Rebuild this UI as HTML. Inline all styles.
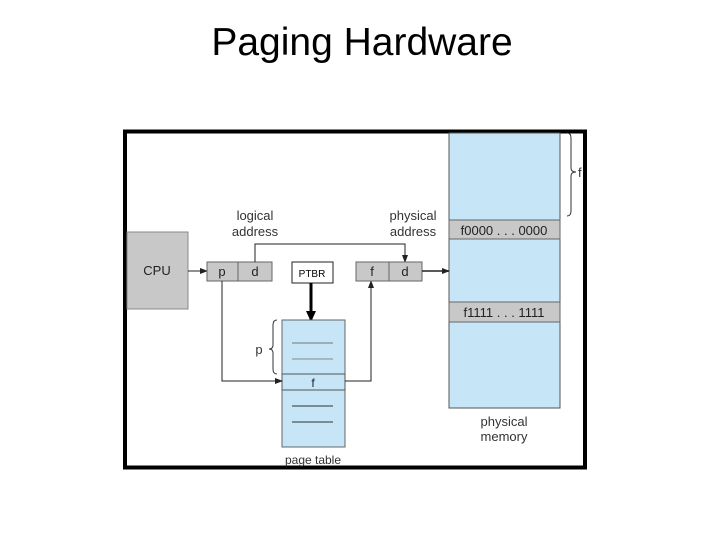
<!DOCTYPE html>
<html><head><style>
body{margin:0;width:720px;height:540px;background:#fff;overflow:hidden;}
</style></head><body>
<svg width="720" height="540" xmlns="http://www.w3.org/2000/svg" font-family="Liberation Sans, Arial, sans-serif">
<defs>
<marker id="a" markerWidth="8" markerHeight="8" refX="7" refY="4" orient="auto" markerUnits="userSpaceOnUse"><path d="M0,1 L8,4 L0,7 z" fill="#222"/></marker>
<marker id="b" markerWidth="12" markerHeight="12" refX="10" refY="6" orient="auto" markerUnits="userSpaceOnUse"><path d="M0,1 L11,6 L0,11 z" fill="#000"/></marker>
</defs>
<text x="362" y="55" font-size="39" text-anchor="middle" fill="#000">Paging Hardware</text>
<rect x="125" y="131.5" width="460" height="336" fill="#fff" stroke="#000" stroke-width="4"/>
<rect x="449" y="133" width="111" height="275" fill="#c6e6f8" stroke="#555" stroke-width="1"/>
<rect x="449" y="220" width="111" height="19" fill="#c8c8c8" stroke="#666" stroke-width="1"/>
<rect x="449" y="302" width="111" height="20" fill="#c8c8c8" stroke="#666" stroke-width="1"/>
<text x="504" y="235" font-size="13" text-anchor="middle" fill="#222">f0000 . . . 0000</text>
<text x="504" y="317" font-size="13" text-anchor="middle" fill="#222">f1111 . . . 1111</text>
<path d="M567,133 q4,0 4,5 v30 q0,4 5,4 q-5,0 -5,4 v35 q0,5 -4,5" fill="none" stroke="#333"/>
<text x="578" y="177" font-size="13" fill="#333">f</text>
<text x="504" y="426" font-size="13" text-anchor="middle" fill="#333">physical</text>
<text x="504" y="441" font-size="13" text-anchor="middle" fill="#333">memory</text>
<rect x="127" y="232" width="61" height="77" fill="#c8c8c8" stroke="#888"/>
<text x="157" y="275" font-size="13" text-anchor="middle" fill="#222">CPU</text>
<line x1="188" y1="271" x2="207" y2="271" stroke="#222" marker-end="url(#a)"/>
<rect x="207" y="262" width="65" height="19" fill="#c8c8c8" stroke="#666"/>
<line x1="238" y1="262" x2="238" y2="281" stroke="#666"/>
<text x="222" y="276" font-size="13" text-anchor="middle" fill="#222">p</text>
<text x="255" y="276" font-size="13" text-anchor="middle" fill="#222">d</text>
<text x="255" y="220" font-size="13" text-anchor="middle" fill="#333">logical</text>
<text x="255" y="236" font-size="13" text-anchor="middle" fill="#333">address</text>
<rect x="292" y="262" width="41" height="21" fill="#fff" stroke="#222"/>
<text x="312" y="277" font-size="10" text-anchor="middle" fill="#000">PTBR</text>
<line x1="311" y1="283" x2="311" y2="321" stroke="#000" stroke-width="3" marker-end="url(#b)"/>
<rect x="282" y="320" width="63" height="127" fill="#c6e6f8" stroke="#666"/>
<rect x="282" y="374" width="63" height="16" fill="#c6e6f8" stroke="#555"/>
<text x="313" y="387" font-size="12" text-anchor="middle" fill="#222">f</text>
<line x1="292" y1="343" x2="333" y2="343" stroke="#777"/>
<line x1="292" y1="359" x2="333" y2="359" stroke="#888"/>
<line x1="292" y1="406" x2="333" y2="406" stroke="#333"/>
<line x1="292" y1="422" x2="333" y2="422" stroke="#333"/>
<path d="M277,320 q-4,0 -4,5 v20 q0,4 -4,4 q4,0 4,4 v16 q0,5 4,5" fill="none" stroke="#333"/>
<text x="259" y="354" font-size="13" text-anchor="middle" fill="#333">p</text>
<text x="313" y="464" font-size="12" text-anchor="middle" fill="#333">page table</text>
<polyline points="222,281 222,381 282,381" fill="none" stroke="#222" marker-end="url(#a)"/>
<polyline points="345,381 371,381 371,281" fill="none" stroke="#222" marker-end="url(#a)"/>
<polyline points="255,262 255,244 405,244 405,262" fill="none" stroke="#222" marker-end="url(#a)"/>
<rect x="356" y="262" width="66" height="19" fill="#c8c8c8" stroke="#666"/>
<line x1="389" y1="262" x2="389" y2="281" stroke="#666"/>
<text x="372" y="276" font-size="13" text-anchor="middle" fill="#222">f</text>
<text x="405" y="276" font-size="13" text-anchor="middle" fill="#222">d</text>
<text x="413" y="220" font-size="13" text-anchor="middle" fill="#333">physical</text>
<text x="413" y="236" font-size="13" text-anchor="middle" fill="#333">address</text>
<line x1="422" y1="271" x2="449" y2="271" stroke="#222" stroke-width="1.5" marker-end="url(#a)"/>
</svg>
</body></html>
